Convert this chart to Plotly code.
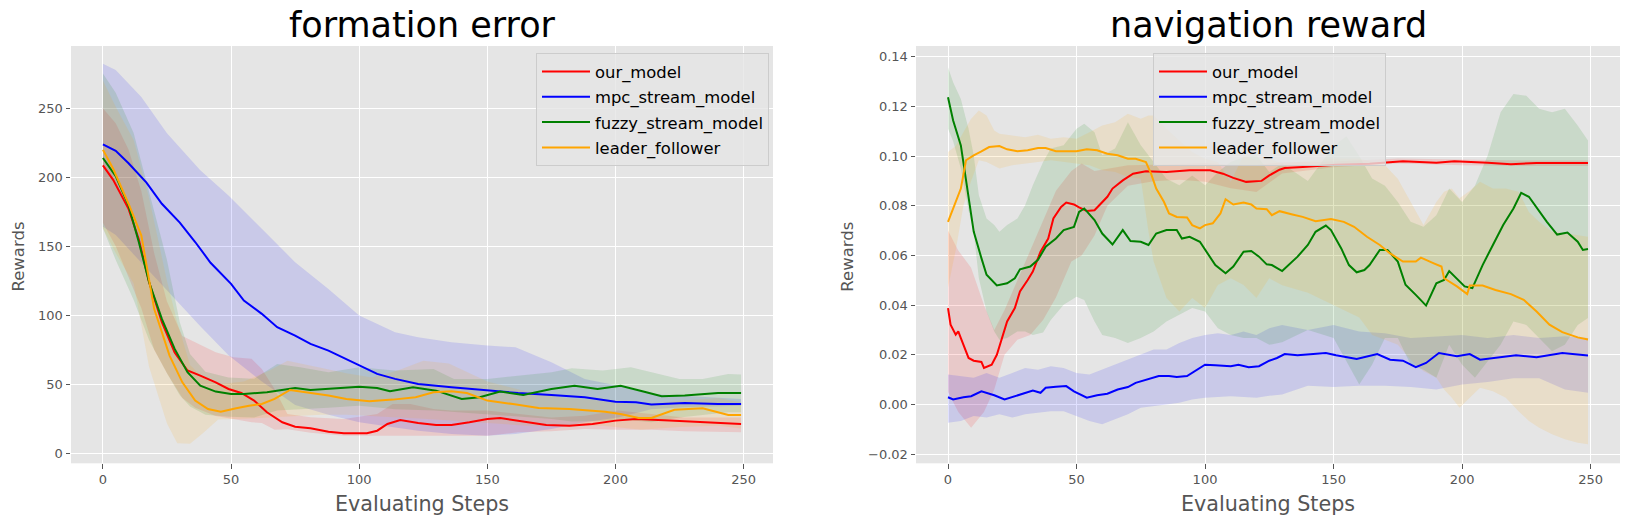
import plotly.graph_objects as go

W, H = 1629, 524

NAMES = ["our_model", "mpc_stream_model", "fuzzy_stream_model", "leader_follower"]
COLORS = ["#ff0000", "#0000ff", "#008000", "#ffa500"]
BAND_RGB = ["255,0,0", "0,0,255", "0,128,0", "255,165,0"]

# ---- formation error (left) ----
fe_our_x = [0, 4, 10, 14, 18, 23, 28, 33, 38, 44, 49, 54, 59, 64, 70, 75, 81, 88, 94, 103, 107, 111, 116,
            123, 130, 136, 143, 150, 155, 162, 173, 182, 191, 200, 208, 221, 234, 249]
fe_our_y = [208.5, 198, 177, 155, 124, 95, 73, 60, 56.3, 51.4, 46.6, 43.7, 38.2, 29.7, 22.5, 19.3, 18.1, 15.7,
            14.5, 14.5, 16.4, 21.3, 24.2, 22, 20.5, 20.5, 22.5, 24.9, 25.6, 23.7, 20.5, 20, 21.3, 23.7, 24.9,
            23.7, 22.5, 21.3]
fe_mpc_x = [0, 5, 10, 17, 23, 30, 36, 42, 50, 55, 62, 68, 75, 81, 88, 100, 107, 114, 123, 136, 150, 162, 175,
            188, 200, 208, 214, 227, 240, 249]
fe_mpc_y = [223.7, 219, 210, 196, 180.7, 167, 153, 138, 122.7, 110.6, 101, 91.3, 85.3, 79.2, 74.4, 63.5, 57.5,
            53.9, 50.2, 47.8, 45.4, 43.7, 42.3, 40.6, 37.4, 37, 35.3, 36.5, 35.7, 35.7]
fe_fuzzy_x = [0, 5, 10, 14, 18, 23, 28, 33, 38, 44, 50, 55, 64, 75, 81, 88, 100, 107, 112, 121, 130, 140, 147,
              155, 164, 175, 184, 193, 202, 212, 218, 227, 240, 249]
fe_fuzzy_y = [213.8, 200.7, 179.5, 153, 124, 97.3, 75.6, 58.7, 49, 44.7, 43, 43, 44.2, 47.3, 45.9, 46.6, 48.3,
              47.3, 44.9, 47.8, 45.4, 39.4, 40.6, 44.7, 42.3, 46.6, 49, 46.6, 49, 44.2, 41.3, 41.8, 43.7, 43.7]
fe_leader_x = [0, 4, 10, 15, 20, 26, 31, 36, 41, 46, 52, 57, 62, 67, 73, 80, 88, 95, 104, 113, 122, 129, 136,
               142, 150, 160, 170, 182, 196, 202, 209, 214, 223, 234, 244, 249]
fe_leader_y = [219.8, 206, 180.7, 157.7, 104.6, 70.8, 51.4, 38.2, 32.1, 30.2, 32.6, 34.5, 35.7, 39.4, 45.9,
               44.2, 41.8, 39.4, 37.7, 38.9, 40.6, 44.2, 44.9, 43.7, 38.2, 35.7, 32.9, 32.1, 30.2, 28.5, 25.6,
               25.6, 31.6, 32.6, 27.8, 27.8]

fe_our_band_x = [0, 5, 10, 15, 20, 25, 31, 36, 44, 51, 58, 62, 67, 72, 81, 94, 107, 113, 120, 129, 136, 150,
                 162, 175, 188, 201, 214, 227, 249]
fe_our_hi = [249.8, 239, 220, 190, 145, 110, 85, 80.4, 73.2, 69.6, 68.4, 61.1, 46.6, 28.5, 26.1, 24.9, 28.5,
             35.7, 35.7, 32.1, 31, 31, 28.5, 26, 27.3, 31, 28.5, 26, 26]
fe_our_lo = [167, 150, 128, 105, 75, 58, 40, 33, 27, 25, 22.5, 22, 17, 17.5, 15, 12.8, 12.8, 12.8, 12.8, 12.8,
             12.8, 12.8, 15.2, 16, 17.6, 17, 17, 16, 15.2]
fe_mpc_band_x = [0, 5, 15, 25, 38, 49, 62, 75, 88, 100, 114, 123, 136, 150, 161, 175, 188, 201, 214, 227, 249]
fe_mpc_hi = [282, 277.5, 258, 231.7, 205, 186.7, 162.6, 138.4, 119, 99.8, 87.7, 84, 80.4, 78, 76.8, 66, 53.9,
             49, 43, 41.8, 39.4]
fe_mpc_lo = [164, 158, 138.4, 118, 92, 71, 52, 35, 28, 22.5, 18.8, 16.4, 14, 12.8, 14, 17.6, 22.5, 26, 32,
             33.3, 34.5]
fe_fuzzy_band_x = [0, 5, 12, 18, 25, 30, 34, 40, 49, 59, 68, 77, 88, 100, 114, 129, 137, 150, 162, 175, 183,
                   195, 206, 214, 225, 234, 244, 249]
fe_fuzzy_hi = [275, 261, 232, 190, 140, 95, 72, 59, 55, 54, 64.7, 62.3, 58.7, 62.3, 59.9, 61.1, 53.9, 53.9,
               56.3, 58.7, 61.6, 59.9, 62.3, 58.7, 53.9, 53.9, 57.5, 57]
fe_fuzzy_lo = [163, 140, 111, 82, 58, 42, 34, 28, 26.5, 26, 31, 32, 33, 34.5, 32, 31, 30, 28.5, 26.5, 24.9,
               23, 23.5, 24, 22.5, 26, 28, 29.7, 29.7]
fe_leader_band_x = [0, 5, 12, 18, 25, 29, 34, 39, 45, 55, 65, 72, 85, 95, 105, 115, 125, 135, 150, 165, 180,
                    195, 210, 225, 240, 249]
fe_leader_hi = [270, 251, 226.8, 185, 125, 95, 64, 55, 50, 52, 60, 67, 62, 58, 55, 60, 67, 65, 52, 45, 40, 38,
                35, 38, 40, 37]
fe_leader_lo = [163, 145, 123, 62.7, 21.6, 7.4, 7, 14.5, 24.5, 25, 26, 27, 28, 28, 27, 26, 25, 24, 22, 20, 20,
                20, 17, 19, 20, 18]

# ---- navigation reward (right) ----
nr_our_x = [0, 1, 3, 4, 5, 8, 10, 13, 14, 17, 19, 21, 23, 26, 28, 31, 33, 36, 39, 41, 44, 46, 49, 51, 54, 57,
            59, 62, 64, 68, 72, 77, 85, 94, 102, 107, 111, 116, 122, 125, 129, 131, 138, 151, 164, 177, 190,
            197, 210, 219, 229, 242, 249]
nr_our_y = [0.0388, 0.0321, 0.0281, 0.0294, 0.0267, 0.0187, 0.0176, 0.0171, 0.0147, 0.016, 0.020, 0.0267,
            0.0334, 0.0388, 0.0455, 0.0501, 0.0535, 0.0615, 0.0668, 0.0749, 0.0795, 0.0813, 0.0805, 0.0793,
            0.0779, 0.0782, 0.0802, 0.0836, 0.0869, 0.0902, 0.0929, 0.0939, 0.0936, 0.0943, 0.0943, 0.0929,
            0.0912, 0.0896, 0.090, 0.0922, 0.0945, 0.0952, 0.0956, 0.0965, 0.0969, 0.0979, 0.0973, 0.0979,
            0.0973, 0.0967, 0.0972, 0.0973, 0.0972]
nr_mpc_x = [0, 2, 6, 9, 13, 15, 18, 22, 26, 30, 33, 36, 38, 42, 46, 49, 54, 58, 62, 66, 70, 73, 79, 82, 86, 89,
            93, 97, 100, 104, 110, 113, 117, 121, 125, 128, 131, 136, 141, 147, 151, 159, 167, 172, 177, 182,
            186, 191, 198, 203, 207, 213, 221, 229, 239, 249]
nr_mpc_y = [0.0029, 0.002, 0.0029, 0.0033, 0.0053, 0.0047, 0.0037, 0.002, 0.0033, 0.0047, 0.0056, 0.0047,
            0.0067, 0.0071, 0.0074, 0.0053, 0.0027, 0.0037, 0.0043, 0.006, 0.007, 0.0087, 0.0107, 0.0114,
            0.0114, 0.011, 0.0114, 0.014, 0.016, 0.0158, 0.0154, 0.016, 0.015, 0.0154, 0.0176, 0.0187, 0.0203,
            0.0198, 0.0203, 0.0207, 0.0198, 0.0183, 0.0203, 0.018, 0.0176, 0.015, 0.0167, 0.0207, 0.0194,
            0.0203, 0.018, 0.0187, 0.0198, 0.019, 0.0207, 0.0197]
nr_fuzzy_x = [0, 2, 5, 8, 10, 13, 15, 19, 23, 26, 28, 32, 35, 38, 42, 45, 49, 51, 53, 57, 60, 64, 67, 68, 71,
              75, 78, 81, 85, 89, 91, 94, 98, 100, 104, 108, 111, 115, 118, 121, 124, 126, 130, 136, 140, 143,
              147, 149, 153, 156, 159, 162, 164, 168, 171, 175, 178, 182, 186, 190, 193, 195, 198, 201, 204,
              208, 212, 216, 220, 223, 226, 229, 233, 237, 241, 245, 247, 249]
nr_fuzzy_y = [0.1237, 0.1143, 0.1043, 0.083, 0.0696, 0.0589, 0.0522, 0.0479, 0.0488, 0.0508, 0.0544, 0.0555,
              0.0582, 0.0635, 0.0668, 0.0702, 0.0715, 0.0775, 0.0789, 0.0742, 0.0688, 0.0644, 0.0688, 0.0702,
              0.0658, 0.0655, 0.0642, 0.0688, 0.0702, 0.0702, 0.0668, 0.0675, 0.0655, 0.0622, 0.0561, 0.0528,
              0.0555, 0.0615, 0.0618, 0.0595, 0.0564, 0.0561, 0.0537, 0.0595, 0.0642, 0.0695, 0.072, 0.0702,
              0.0628, 0.0561, 0.0532, 0.0541, 0.0561, 0.0622, 0.0622, 0.0575, 0.0482, 0.0441, 0.0398, 0.0488,
              0.0501, 0.0537, 0.0508, 0.0475, 0.0468, 0.0561, 0.0642, 0.0722, 0.0789, 0.0852, 0.0836, 0.0791,
              0.0735, 0.0684, 0.0692, 0.0655, 0.0622, 0.0626]
nr_leader_x = [0, 2, 5, 7, 10, 13, 16, 20, 23, 27, 31, 35, 38, 42, 46, 50, 54, 58, 62, 66, 70, 73, 77, 79, 81,
               84, 86, 89, 93, 95, 98, 100, 103, 106, 108, 111, 115, 118, 120, 124, 126, 129, 134, 138, 143, 149,
               154, 158, 163, 168, 172, 177, 182, 184, 189, 192, 193, 198, 202, 203, 208, 213, 219, 224, 229,
               234, 239, 245, 249]
nr_leader_y = [0.0735, 0.0789, 0.0869, 0.0983, 0.1003, 0.1019, 0.1036, 0.104, 0.1027, 0.1019, 0.1023, 0.1032,
               0.1032, 0.1019, 0.1019, 0.1019, 0.1027, 0.1023, 0.1009, 0.1003, 0.0989, 0.0989, 0.0976, 0.0929,
               0.0869, 0.0816, 0.0769, 0.0755, 0.0753, 0.0722, 0.0709, 0.0722, 0.0729, 0.0769, 0.0826, 0.0805,
               0.0813, 0.0805, 0.0789, 0.0786, 0.0762, 0.0778, 0.0765, 0.0755, 0.0738, 0.0746, 0.0735, 0.0715,
               0.0675, 0.0642, 0.0608, 0.0575, 0.0575, 0.0591, 0.0568, 0.0555, 0.0508, 0.0475, 0.0444, 0.0479,
               0.0479, 0.0461, 0.0444, 0.0421, 0.0374, 0.0321, 0.0291, 0.027, 0.0261]

nr_our_band_x = [0, 4, 9, 14, 18, 22, 27, 32, 37, 42, 48, 52, 57, 62, 70, 80, 90, 100, 110, 120, 130, 150, 175,
                 200, 225, 249]
nr_our_hi = [0.07, 0.062, 0.055, 0.04, 0.03, 0.038, 0.05, 0.062, 0.074, 0.086, 0.094, 0.097, 0.094, 0.095,
             0.0963, 0.0965, 0.097, 0.0972, 0.0965, 0.0965, 0.0975, 0.0978, 0.099, 0.0985, 0.0982, 0.0982]
nr_our_lo = [0.005, -0.003, -0.0094, -0.003, 0.006, 0.02, 0.026, 0.028, 0.034, 0.043, 0.0575, 0.06, 0.068,
             0.08, 0.088, 0.0898, 0.0905, 0.0896, 0.087, 0.0855, 0.093, 0.0955, 0.097, 0.0963, 0.096, 0.096]
nr_mpc_band_x = [0, 5, 10, 15, 20, 25, 30, 35, 40, 45, 50, 55, 60, 65, 70, 75, 80, 85, 90, 95, 100, 105, 110,
                 115, 120, 125, 130, 140, 150, 160, 170, 180, 190, 200, 210, 220, 230, 240, 249]
nr_mpc_hi = [0.012, 0.0114, 0.0107, 0.0127, 0.0107, 0.0127, 0.0147, 0.014, 0.0154, 0.0147, 0.0127, 0.012,
             0.014, 0.016, 0.018, 0.02, 0.0221, 0.0221, 0.0247, 0.0267, 0.028, 0.0287, 0.028, 0.0294, 0.028,
             0.0307, 0.032, 0.030, 0.032, 0.0294, 0.0287, 0.0267, 0.0274, 0.028, 0.0267, 0.028, 0.0267, 0.0274,
             0.0267]
nr_mpc_lo = [-0.0074, -0.0067, -0.0047, -0.0053, -0.004, -0.0053, -0.004, -0.0033, -0.0027, -0.0027, -0.0047,
             -0.0067, -0.008, -0.006, -0.004, -0.0013, -0.0007, 0.0, 0.0007, 0.002, 0.0027, 0.003, 0.0033,
             0.003, 0.0027, 0.0035, 0.004, 0.0075, 0.007, 0.0075, 0.0075, 0.007, 0.006, 0.008, 0.009, 0.0105,
             0.0105, 0.006, 0.0047]
nr_fuzzy_band_x = [0, 2, 5, 8, 10, 12, 15, 18, 20, 23, 27, 30, 33, 37, 40, 45, 50, 53, 57, 60, 65, 70, 75, 80,
                   85, 90, 95, 100, 105, 110, 115, 120, 125, 130, 140, 150, 155, 160, 165, 170, 175, 180, 185,
                   190, 195, 200, 205, 210, 215, 220, 225, 230, 235, 240, 245, 249]
nr_fuzzy_hi = [0.1357, 0.1297, 0.123, 0.111, 0.1003, 0.0842, 0.0749, 0.0722, 0.0695, 0.0722, 0.0749, 0.0802,
               0.0882, 0.0976, 0.103, 0.1043, 0.111, 0.113, 0.1096, 0.1003, 0.103, 0.1136, 0.1043, 0.0976,
               0.0909, 0.0882, 0.0922, 0.0882, 0.0936, 0.0976, 0.0996, 0.1003, 0.0936, 0.097, 0.09, 0.104,
               0.108, 0.1, 0.091, 0.088, 0.0815, 0.0735, 0.0715, 0.0762, 0.0869, 0.0815, 0.088, 0.1003, 0.1176,
               0.125, 0.1243, 0.119, 0.1176, 0.119, 0.1123, 0.1063]
nr_fuzzy_lo = [0.111, 0.106, 0.095, 0.078, 0.0695, 0.0508, 0.0374, 0.0294, 0.026, 0.0267, 0.0294, 0.0294,
               0.028, 0.029, 0.034, 0.0401, 0.0434, 0.042, 0.0334, 0.028, 0.0267, 0.0247, 0.0267, 0.0294,
               0.0334, 0.036, 0.0388, 0.0374, 0.0307, 0.028, 0.0267, 0.0267, 0.024, 0.025, 0.03, 0.0267, 0.0174,
               0.008, 0.016, 0.0267, 0.0267, 0.016, 0.014, 0.0107, 0.024, 0.016, 0.0107, 0.0174, 0.024, 0.0334,
               0.032, 0.0267, 0.0214, 0.024, 0.032, 0.0348]
nr_leader_band_x = [0, 3, 6, 9, 12, 15, 18, 20, 25, 30, 35, 40, 45, 50, 55, 60, 65, 70, 75, 78, 80, 85, 90, 95,
                    100, 105, 110, 115, 120, 125, 130, 140, 150, 160, 165, 170, 175, 180, 185, 190, 193, 196,
                    199, 203, 207, 212, 217, 222, 226, 230, 235, 240, 245, 249]
nr_leader_hi = [0.1016, 0.104, 0.1096, 0.115, 0.1183, 0.1163, 0.1103, 0.109, 0.1083, 0.1076, 0.1086, 0.107,
                0.1076, 0.107, 0.1096, 0.1123, 0.1136, 0.117, 0.115, 0.1163, 0.1163, 0.111, 0.1063, 0.1016,
                0.0989, 0.0976, 0.0896, 0.1003, 0.0983, 0.0989, 0.097, 0.098, 0.099, 0.099, 0.0976, 0.0963,
                0.0909, 0.0815, 0.0722, 0.0815, 0.0856, 0.0869, 0.083, 0.086, 0.0896, 0.0869, 0.0869, 0.0856,
                0.0775, 0.0735, 0.0695, 0.0689, 0.0682, 0.0675]
nr_leader_lo = [0.047, 0.062, 0.08, 0.09, 0.0983, 0.0976, 0.096, 0.095, 0.0963, 0.097, 0.0976, 0.0983, 0.0976,
                0.097, 0.0963, 0.0943, 0.0936, 0.0916, 0.0909, 0.0695, 0.0575, 0.0428, 0.0374, 0.0428, 0.0388,
                0.0481, 0.0508, 0.0481, 0.0428, 0.0508, 0.048, 0.045, 0.04, 0.035, 0.028, 0.026, 0.024, 0.018,
                0.0134, 0.0107, 0.006, 0.0027, -0.0013, 0.0027, 0.0067, 0.0053, 0.0027, -0.0027, -0.0067,
                -0.0094, -0.012, -0.014, -0.0154, -0.016]

fe_x_ticks = [0, 50, 100, 150, 200, 250]
fe_y_ticks = [0, 50, 100, 150, 200, 250]
nr_y_ticks = [-0.02, 0.0, 0.02, 0.04, 0.06, 0.08, 0.10, 0.12, 0.14]
nr_y_labels = ["\u22120.02", "0.00", "0.02", "0.04", "0.06", "0.08", "0.10", "0.12", "0.14"]

FONT = "DejaVu Sans"
TICK_GREY = "#555555"

fig = go.Figure()


def add_band(x, hi, lo, i, xa, ya):
    fig.add_trace(go.Scatter(
        x=list(x) + list(x)[::-1],
        y=list(hi) + list(lo)[::-1],
        fill="toself",
        fillcolor=f"rgba({BAND_RGB[i]},0.12)",
        line=dict(width=0, color=f"rgba({BAND_RGB[i]},0)"),
        mode="lines",
        hoverinfo="skip",
        showlegend=False,
        xaxis=xa, yaxis=ya,
    ))


def add_line(x, y, i, xa, ya, legend):
    fig.add_trace(go.Scatter(
        x=x, y=y,
        mode="lines",
        name=NAMES[i],
        line=dict(color=COLORS[i], width=2),
        legend=legend,
        legendgroup=f"{legend}_{i}",
        xaxis=xa, yaxis=ya,
    ))


fe_bands = [
    (fe_our_band_x, fe_our_hi, fe_our_lo),
    (fe_mpc_band_x, fe_mpc_hi, fe_mpc_lo),
    (fe_fuzzy_band_x, fe_fuzzy_hi, fe_fuzzy_lo),
    (fe_leader_band_x, fe_leader_hi, fe_leader_lo),
]
fe_lines = [
    (fe_our_x, fe_our_y),
    (fe_mpc_x, fe_mpc_y),
    (fe_fuzzy_x, fe_fuzzy_y),
    (fe_leader_x, fe_leader_y),
]
nr_bands = [
    (nr_our_band_x, nr_our_hi, nr_our_lo),
    (nr_mpc_band_x, nr_mpc_hi, nr_mpc_lo),
    (nr_fuzzy_band_x, nr_fuzzy_hi, nr_fuzzy_lo),
    (nr_leader_band_x, nr_leader_hi, nr_leader_lo),
]
nr_lines = [
    (nr_our_x, nr_our_y),
    (nr_mpc_x, nr_mpc_y),
    (nr_fuzzy_x, nr_fuzzy_y),
    (nr_leader_x, nr_leader_y),
]

for i, (bx, hi, lo) in enumerate(fe_bands):
    add_band(bx, hi, lo, i, "x", "y")
for i, (bx, hi, lo) in enumerate(nr_bands):
    add_band(bx, hi, lo, i, "x2", "y2")
for i, (lx, ly) in enumerate(fe_lines):
    add_line(lx, ly, i, "x", "y", "legend")
for i, (lx, ly) in enumerate(nr_lines):
    add_line(lx, ly, i, "x2", "y2", "legend2")

axis_common = dict(
    showgrid=True, gridcolor="white", gridwidth=1.1,
    zeroline=False, showline=False,
    ticks="outside", ticklen=4.5, tickwidth=1, tickcolor=TICK_GREY,
    tickfont=dict(family=FONT, size=13, color=TICK_GREY),
)

y_top, y_bot = 1 - 46 / H, 1 - 463.3 / H

legend_common = dict(
    bgcolor="rgba(229,229,229,0.8)",
    bordercolor="#cccccc", borderwidth=1,
    font=dict(family=FONT, size=16.4, color="black"),
    xanchor="left", yanchor="top",
    tracegroupgap=1,
    traceorder="grouped",
    itemwidth=48,
)

fig.update_layout(
    width=W, height=H,
    margin=dict(l=0, r=0, t=0, b=0),
    paper_bgcolor="white",
    plot_bgcolor="#e5e5e5",
    font=dict(family=FONT),
    xaxis=dict(domain=[71 / W, 773 / W], range=[-12.45, 261.45], tickvals=fe_x_ticks,
               anchor="y", **axis_common),
    yaxis=dict(domain=[y_bot, y_top], range=[-7.2, 294.9], tickvals=fe_y_ticks,
               anchor="x", **axis_common),
    xaxis2=dict(domain=[916 / W, 1620 / W], range=[-12.45, 261.45], tickvals=fe_x_ticks,
                anchor="y2", **axis_common),
    yaxis2=dict(domain=[y_bot, y_top], range=[-0.0237, 0.1443], tickvals=nr_y_ticks,
                ticktext=nr_y_labels, anchor="x2", **axis_common),
    legend=dict(x=536 / W, y=1 - 53.3 / H, **legend_common),
    legend2=dict(x=1153 / W, y=1 - 53.3 / H, **legend_common),
)

# titles and axis labels
title_font = dict(family=FONT, size=35, color="black")
label_font = dict(family=FONT, size=20.7, color=TICK_GREY)
ylabel_font = dict(family=FONT, size=16.5, color=TICK_GREY)

fig.add_annotation(text="formation error", x=422 / W, y=1 - 25.5 / H, xref="paper", yref="paper",
                   showarrow=False, xanchor="center", yanchor="middle", font=title_font)
fig.add_annotation(text="navigation reward", x=1268 / W, y=1 - 25.5 / H, xref="paper", yref="paper",
                   showarrow=False, xanchor="center", yanchor="middle", font=title_font)
for cx in (422, 1268):
    fig.add_annotation(text="Evaluating Steps", x=cx / W, y=1 - 503.5 / H, xref="paper", yref="paper",
                       showarrow=False, xanchor="center", yanchor="middle", font=label_font)
for cx in (18.8, 848):
    fig.add_annotation(text="Rewards", x=cx / W, y=1 - 256.7 / H, xref="paper", yref="paper",
                       showarrow=False, xanchor="center", yanchor="middle", textangle=-90,
                       font=ylabel_font)

# the page's default body margin would shift the figure by 8px
fig.write_html("out.html", config={"displayModeBar": False},
               post_script="document.body.style.margin='0';")
